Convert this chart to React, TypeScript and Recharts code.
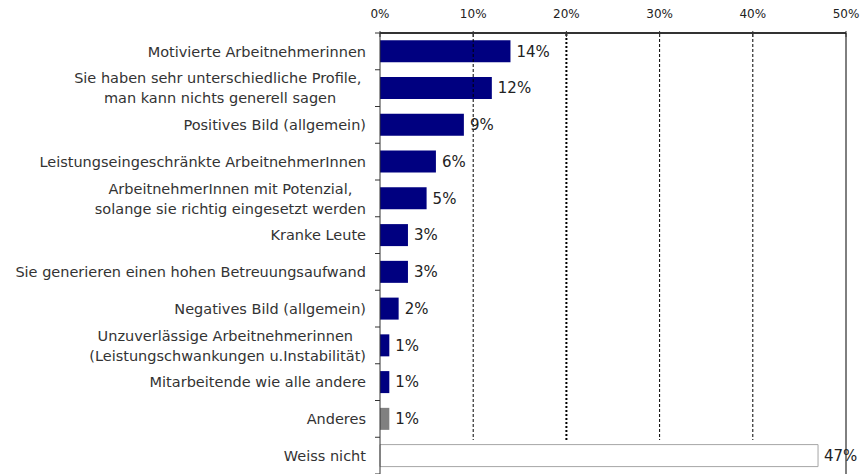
import React from 'react';
import { BarChart, Bar, XAxis, YAxis, LabelList, Cell } from 'recharts';

const categories: string[] = [
  'Motivierte Arbeitnehmerinnen',
  'Sie haben sehr unterschiedliche Profile, \nman kann nichts generell sagen',
  'Positives Bild (allgemein)',
  'Leistungseingeschränkte ArbeitnehmerInnen',
  'ArbeitnehmerInnen mit Potenzial,\nsolange sie richtig eingesetzt werden',
  'Kranke Leute',
  'Sie generieren einen hohen Betreuungsaufwand',
  'Negatives Bild (allgemein)',
  'Unzuverlässige Arbeitnehmerinnen \n(Leistungschwankungen u.Instabilität)',
  'Mitarbeitende wie alle andere',
  'Anderes',
  'Weiss nicht',
];
const values: number[] = [14, 12, 9, 6, 5, 3, 3, 2, 1, 1, 1, 47];
const kinds: string[] = ['main', 'main', 'main', 'main', 'main', 'main', 'main', 'main', 'main', 'main', 'other', 'unknown'];
const xTicks: number[] = [0, 10, 20, 30, 40, 50];

const FONT = "'DejaVu Sans', Verdana, sans-serif";
const W = 863;
const H = 474;
const AXIS_TOP = 33;
const Y_AXIS_W = 380;
const RIGHT = 17;
const BAND = (H - AXIS_TOP) / categories.length;
const GRID_BOTTOM = 440;
const CAT_SIZE = 14.5;

const fills: Record<string, string> = { main: '#000080', other: '#808080', unknown: '#ffffff' };
const strokes: Record<string, string> = { main: 'none', other: 'none', unknown: '#a6a6a6' };

const data = categories.map((c, i) => ({ label: c, value: values[i], kind: kinds[i] }));

let ctx: CanvasRenderingContext2D | null = null;
function measure(text: string, size: number): number {
  if (typeof document === 'undefined') return text.length * size * 0.6;
  if (!ctx) ctx = document.createElement('canvas').getContext('2d');
  if (!ctx) return text.length * size * 0.6;
  ctx.font = `${size}px 'DejaVu Sans'`;
  return ctx.measureText(text).width;
}

const YTick = (props: any) => {
  const { y, payload, index } = props;
  const lines = String(payload.value).split('\n');
  const right = Y_AXIS_W - 14;
  const lh = 20;
  const startY = y - ((lines.length - 1) * lh) / 2;
  const isLast = index === categories.length - 1;
  const widths = lines.map((l) => measure(l, CAT_SIZE));
  const maxW = Math.max(...widths);
  const cx = right - maxW / 2;
  return (
    <g>
      <line x1={Y_AXIS_W - 5} x2={Y_AXIS_W} y1={y - BAND / 2} y2={y - BAND / 2} stroke="#333" strokeWidth={1} />
      {isLast && (
        <line x1={Y_AXIS_W - 5} x2={Y_AXIS_W} y1={y + BAND / 2} y2={y + BAND / 2} stroke="#333" strokeWidth={1} />
      )}
      {lines.map((l, i) => (
        <text
          key={i}
          x={lines.length > 1 ? cx - widths[i] / 2 : right}
          y={startY + i * lh}
          dy="0.36em"
          textAnchor={lines.length > 1 ? 'start' : 'end'}
          fontSize={CAT_SIZE}
          fontFamily={FONT}
          fill="#333"
        >
          {l.trimEnd()}
        </text>
      ))}
    </g>
  );
};

const XTick = (props: any) => {
  const { x, payload } = props;
  const v = payload.value;
  let grid: React.ReactNode = null;
  if (v === 50) {
    grid = <line x1={x} x2={x} y1={AXIS_TOP} y2={H} stroke="#000" strokeWidth={1} />;
  } else if (v === 20) {
    grid = <line x1={x} x2={x} y1={AXIS_TOP + 1} y2={GRID_BOTTOM} stroke="#000" strokeWidth={2} strokeDasharray="2 2" />;
  } else if (v > 0) {
    grid = <line x1={x} x2={x} y1={AXIS_TOP + 1} y2={GRID_BOTTOM} stroke="#000" strokeWidth={1} strokeDasharray="3 2" />;
  }
  return (
    <g>
      {grid}
      <line x1={x} x2={x} y1={AXIS_TOP - 2} y2={AXIS_TOP + 4} stroke="#333" strokeWidth={1} />
      <text x={x} y={18} textAnchor="middle" fontSize={12} fontFamily={FONT} fill="#222">
        {`${v}%`}
      </text>
    </g>
  );
};

export default function App() {
  return (
    <div style={{ position: 'absolute', left: 0, top: 0, width: W, height: H, background: '#fff', overflow: 'hidden' }}>
      <BarChart
        width={W}
        height={H}
        data={data}
        layout="vertical"
        margin={{ top: 0, right: RIGHT, bottom: 0, left: 0 }}
        barCategoryGap="20%"
      >
        <XAxis
          type="number"
          orientation="top"
          domain={[0, 50]}
          ticks={xTicks}
          height={AXIS_TOP}
          axisLine={{ stroke: '#333', strokeWidth: 2 }}
          tickLine={false}
          tick={<XTick />}
          interval={0}
        />
        <YAxis
          type="category"
          dataKey="label"
          width={Y_AXIS_W}
          axisLine={{ stroke: '#333', strokeWidth: 1 }}
          tickLine={false}
          tick={<YTick />}
          interval={0}
        />
        <Bar dataKey="value" isAnimationActive={false}>
          {data.map((d, i) => (
            <Cell key={i} fill={fills[d.kind]} stroke={strokes[d.kind]} strokeWidth={1} />
          ))}
          <LabelList
            dataKey="value"
            position="right"
            offset={6}
            formatter={(v: any) => `${v}%`}
            style={{ fontSize: 15, fontFamily: FONT, fill: '#222' }}
          />
        </Bar>
      </BarChart>
    </div>
  );
}
